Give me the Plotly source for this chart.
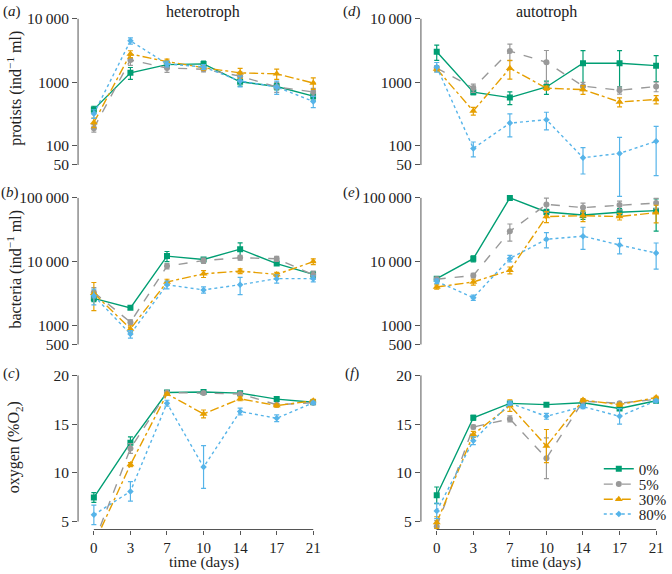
import plotly.graph_objects as go

days = ["0", "3", "7", "10", "14", "17", "21"]
treatments = ["0%", "5%", "30%", "80%"]
colors = ["#009E73", "#999999", "#E69F00", "#56B4E9"]
dashes = ["solid", "dash", "dashdot", "dot"]
symbols = ["square", "circle", "triangle-up", "diamond"]
msizes = [6, 6, 7, 5]

# (a) heterotroph – protists (ind-1 ml); rows = 0%, 5%, 30%, 80%
het_protists = [
    [375, 1410, 1900, 1950, 1020, 860, 605],
    [190, 2250, 1680, 1610, 1250, 845, 705],
    [233, 2790, 2120, 1700, 1410, 1360, 975],
    [320, 4500, 1950, 1750, 1050, 845, 500],
]
het_protists_err = [
    [45, 300, 250, 200, 150, 100, 80],
    [25, 400, 250, 150, 200, 150, 100],
    [40, 350, 200, 150, 250, 250, 200],
    [50, 500, 200, 150, 200, 200, 100],
]
# (b) heterotroph – bacteria
het_bacteria = [
    [2650, 1880, 12200, 10800, 15700, 9300, 6300],
    [3300, 1120, 8500, 10400, 11500, 11100, 6200],
    [3200, 880, 4790, 6430, 7100, 6300, 10000],
    [2900, 730, 4330, 3600, 4340, 5400, 5400],
]
het_bacteria_err = [
    [300, 100, 2200, 800, 4000, 500, 600],
    [600, 100, 800, 1000, 1000, 1000, 900],
    [1500, 100, 500, 800, 600, 500, 1000],
    [800, 100, 600, 400, 1300, 800, 600],
]
# (c) heterotroph – oxygen (%O2)
het_oxygen = [
    [7.47, 13.1, 18.25, 18.3, 18.18, 17.57, 17.25],
    [2.8, 12.5, 18.25, 18.2, 18.1, 17.0, 17.2],
    [2.7, 10.85, 18.1, 16.05, 17.6, 16.9, 17.4],
    [5.7, 8.1, 17.15, 10.6, 16.3, 15.6, 17.2],
]
het_oxygen_err = [
    [0.5, 0.6, 0.1, 0.1, 0.1, 0.1, 0.1],
    [0.5, 0.5, 0.1, 0.1, 0.1, 0.1, 0.1],
    [0.3, 0.2, 0.1, 0.4, 0.2, 0.15, 0.15],
    [1.0, 1.0, 0.3, 2.2, 0.35, 0.35, 0.15],
]
# (d) autotroph – protists
aut_protists = [
    [3030, 700, 575, 845, 2000, 2000, 1830],
    [1680, 815, 3100, 2070, 870, 750, 860],
    [1620, 354, 1670, 810, 768, 490, 537],
    [1750, 91, 228, 258, 65, 76, 118],
]
aut_protists_err = [
    [820, 60, 130, 200, 1150, 1150, 800],
    [150, 120, 900, 1100, 130, 100, 150],
    [150, 50, 550, 60, 120, 80, 80],
    [300, 24, 90, 80, 29, 60, 84],
]
# (e) autotroph – bacteria
aut_bacteria = [
    [5400, 11100, 100000, 60000, 54000, 59600, 63000],
    [5300, 6050, 29900, 79000, 70500, 77000, 83000],
    [4000, 4790, 7330, 51000, 52500, 51000, 58600],
    [4900, 2720, 11200, 22400, 25100, 18200, 13600],
]
aut_bacteria_err = [
    [400, 1200, 3000, 6000, 8000, 8000, 33000],
    [400, 500, 9000, 20000, 12000, 12000, 15000],
    [300, 500, 900, 10000, 10000, 6000, 18000],
    [400, 250, 1300, 6000, 9500, 5000, 6000],
]
# (f) autotroph – oxygen
aut_oxygen = [
    [7.7, 15.65, 17.13, 17.0, 17.2, 16.6, 17.4],
    [4.5, 14.7, 15.54, 11.5, 17.35, 17.15, 17.55],
    [4.9, 13.95, 16.9, 12.75, 17.47, 17.0, 17.74],
    [6.1, 13.3, 17.15, 15.8, 16.8, 15.8, 17.4],
]
aut_oxygen_err = [
    [0.85, 0.25, 0.15, 0.1, 0.1, 0.15, 0.1],
    [0.6, 0.2, 0.3, 2.1, 0.15, 0.1, 0.1],
    [0.6, 0.3, 0.6, 1.7, 0.15, 0.15, 0.1],
    [0.8, 0.4, 0.2, 0.3, 0.2, 0.8, 0.15],
]

W, H = 672, 574
FONT = "Times New Roman, Liberation Serif, DejaVu Serif, serif"
AX = "#555555"
TXT = "#222222"


def fx(px):
    return px / W


def fy(px):
    return 1 - px / H


panels = [
    # (means, errs, axis index, column, row)
    (het_protists, het_protists_err, 1, 0, 0),
    (het_bacteria, het_bacteria_err, 2, 0, 1),
    (het_oxygen, het_oxygen_err, 3, 0, 2),
    (aut_protists, aut_protists_err, 4, 1, 0),
    (aut_bacteria, aut_bacteria_err, 5, 1, 1),
    (aut_oxygen, aut_oxygen_err, 6, 1, 2),
]

col_px = [(79, 320), (426, 667)]
row_px = [(10, 205), (190, 350), (370, 533)]
row_y = [
    dict(type="log", range=[1.0607, 4.0933], tickvals=[50, 100, 1000, 10000],
         ticktext=["50", "100", "1000", "10\u2009000"]),
    dict(type="log", range=[2.633, 5.113], tickvals=[500, 1000, 10000, 100000],
         ticktext=["500", "1000", "10\u2009000", "100\u2009000"]),
    dict(type="linear", range=[4.19, 20.71], tickvals=[5, 10, 15, 20],
         ticktext=["5", "10", "15", "20"]),
]

fig = go.Figure()
layout = {}
for means, errs, k, c, r in panels:
    xa = "x" if k == 1 else f"x{k}"
    ya = "y" if k == 1 else f"y{k}"
    for i in range(4):
        show = (k == 6)
        fig.add_trace(go.Scatter(
            x=days, y=means[i], xaxis=xa, yaxis=ya, name=treatments[i],
            mode="lines+markers",
            line=dict(color=colors[i], width=1.4, dash=dashes[i]),
            marker=dict(symbol=symbols[i], size=msizes[i], color=colors[i]),
            error_y=dict(type="data", array=errs[i], visible=True,
                         color=colors[i], thickness=1.2, width=2.5),
            showlegend=show,
            legend="legend" if i == 0 else f"legend{i + 1}",
        ))
    xkey = "xaxis" if k == 1 else f"xaxis{k}"
    ykey = "yaxis" if k == 1 else f"yaxis{k}"
    x0, x1 = col_px[c]
    t, b = row_px[r]
    bottom = (r == 2)
    layout[xkey] = dict(
        domain=[fx(x0), fx(x1)], anchor=ya, type="category",
        categoryorder="array", categoryarray=days,
        range=[-0.432, 6.08], showgrid=False, zeroline=False, showline=False,
        ticks="outside" if bottom else "", ticklen=4, tickcolor=AX, tickwidth=1,
        showticklabels=bottom,
        tickfont=dict(family=FONT, size=15, color=TXT),
    )
    yspec = dict(row_y[r])
    layout[ykey] = dict(
        domain=[fy(b), fy(t)], anchor=xa, showgrid=False, zeroline=False,
        showline=False, ticks="outside", ticklen=5, tickcolor=AX, tickwidth=1,
        tickmode="array", tickfont=dict(family=FONT, size=15.5, color=TXT),
        **yspec,
    )

shapes = []
yspines = [(16, 164), (197.3, 345.7), (377, 525)]
for xp in (79, 426):
    for (a, b) in yspines:
        shapes.append(dict(type="line", xref="paper", yref="paper",
                           x0=fx(xp), x1=fx(xp), y0=fy(a), y1=fy(b),
                           line=dict(color=AX, width=1)))
for (a, b) in [(95, 317), (442, 664)]:
    shapes.append(dict(type="line", xref="paper", yref="paper",
                       x0=fx(a), x1=fx(b), y0=fy(533), y1=fy(533),
                       line=dict(color=AX, width=1)))

annotations = []


def ann(text, x, y, size=16, angle=0):
    annotations.append(dict(text=text, x=fx(x), y=fy(y), xref="paper",
                            yref="paper", showarrow=False, textangle=angle,
                            xanchor="center", yanchor="middle",
                            font=dict(family=FONT, size=size, color=TXT)))


for lab, x, y in [("a", 12, 9), ("b", 10, 192), ("c", 12, 375),
                  ("d", 356, 9), ("e", 356, 192), ("f", 356, 375)]:
    ann(f"(<i>{lab}</i>)", x, y, size=15)
ann("heterotroph", 205, 9)
ann("autotroph", 553, 9)
ann("protists (ind<sup>\u22121</sup> ml)", 15, 86, angle=-90)
ann("bacteria (ind<sup>\u22121</sup> ml)", 15, 269, angle=-90)
ann("oxygen (%O<sub>2</sub>)", 15, 450, angle=-90)
ann("time (days)", 206, 566, size=15.5)
ann("time (days)", 553, 566, size=15.5)

legend_y = [471.7, 487.3, 502.7, 517.5]
for i in range(4):
    key = "legend" if i == 0 else f"legend{i + 1}"
    layout[key] = dict(x=fx(606), y=fy(legend_y[i]), xanchor="left",
                       yanchor="middle", bgcolor="rgba(0,0,0,0)",
                       borderwidth=0, font=dict(family=FONT, size=15, color=TXT),
                       itemclick=False)

fig.update_layout(
    width=W, height=H, margin=dict(l=0, r=0, t=0, b=0),
    paper_bgcolor="white", plot_bgcolor="rgba(0,0,0,0)",
    shapes=shapes, annotations=annotations, showlegend=True,
    font=dict(family=FONT, size=16, color=TXT),
    **layout,
)
fig.write_html("out.html", config={"displayModeBar": False},
               post_script="document.body.style.margin='0';"
                           "document.body.style.padding='0';")
